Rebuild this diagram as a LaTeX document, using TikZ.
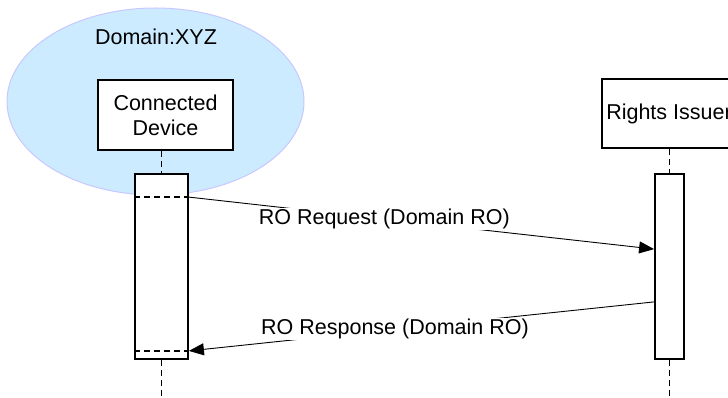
\documentclass[tikz,border=0pt]{standalone}
\usepackage{fontspec}
\setmainfont{Liberation Sans}
\usetikzlibrary{arrows.meta,shapes.geometric}
\definecolor{DomFill}{RGB}{204,235,255}
\definecolor{DomLine}{RGB}{200,200,255}
\tikzset{
  Domain/.style = {ellipse, draw=DomLine, fill=DomFill, line width=1pt,
    minimum width=297pt, minimum height=187pt, inner sep=0pt},
  Actor/.style = {draw, fill=white, line width=1.8pt, align=center,
    inner sep=0pt},
  Act/.style = {draw, fill=white, line width=1.8pt, inner sep=0pt,
    minimum height=185pt},
  Life/.style = {line width=1.8pt, dash pattern=on 6pt off 4pt},
  Msg/.style = {line width=0.9pt},
  MsgLabel/.style = {fill=white, inner sep=1pt},
  every node/.append style = {font=\fontsize{21.5}{25}\selectfont}
}

\begin{document}
\begin{tikzpicture}[x=1pt,y=-1pt]
\useasboundingbox (0,0) rectangle (728,398);
\node[Domain] (dom) at (155.5,101.5) {};
\node (domtext) at (156,37) {Domain:XYZ};
\node[Actor, minimum width=135pt, minimum height=70pt] (dev) at (165.5,115)
  {Connected\\Device};
\node[Actor, minimum width=134pt, minimum height=69pt] (iss) at (669,113.5)
  {Rights Issuer};
\node[Act, minimum width=53pt] (devact) at (161.5,266.5) {};
\node[Act, minimum width=29pt] (issact) at (669.5,266.5) {};
\coordinate (devend) at (161.5,398);
\coordinate (issend) at (669.5,398);
\draw[Life] (devact.north |- dev.south) -- (devact.north);
\draw[Life] (devact.south) -- (devend);
\draw[Life] (issact.north |- iss.south) -- (issact.north);
\draw[Life] (issact.south) -- (issend);
\draw[Life, line width=1.5pt] ([yshift=-24pt]devact.north west) -- ([yshift=-24pt]devact.north east);
\draw[Life, line width=1.5pt] ([yshift=9pt]devact.south west) -- ([yshift=9pt]devact.south east);
\draw[Msg, -{Triangle[length=15pt,width=12pt]}]
  ([yshift=-24pt]devact.north east) -- node[MsgLabel, pos=0.42] (req) {RO Request (Domain RO)}
  ([yshift=-76pt]issact.north west);
\draw[Msg, -{Triangle[length=15pt,width=12pt]}]
  ([yshift=58pt]issact.south west) -- node[MsgLabel, pos=0.557] (resp) {RO Response (Domain RO)}
  ([yshift=9pt]devact.south east);
\end{tikzpicture}
\end{document}
